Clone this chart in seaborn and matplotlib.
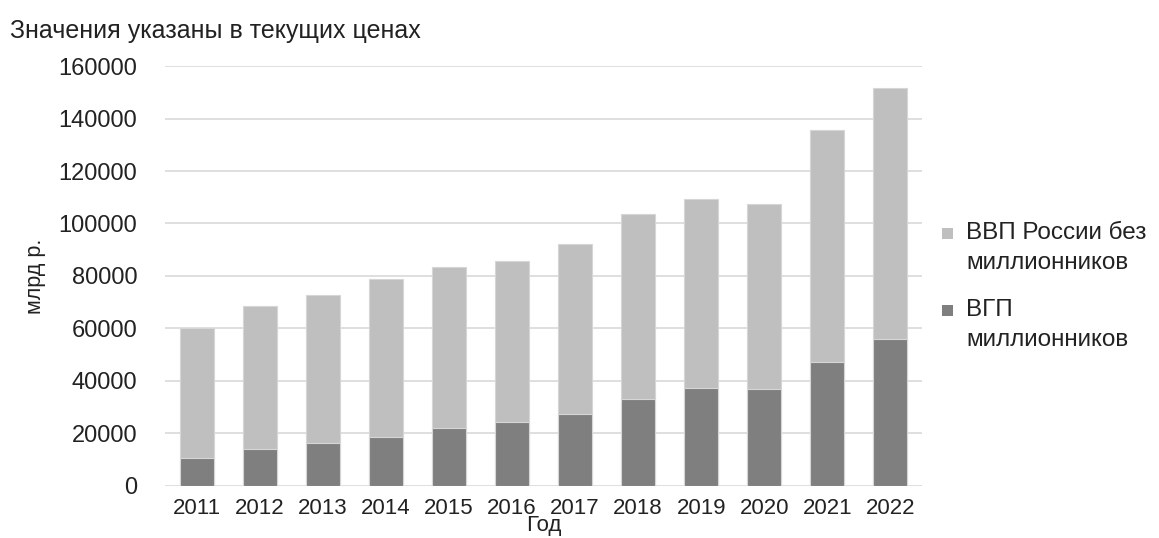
import matplotlib
matplotlib.use("Agg")
import matplotlib.pyplot as plt
import matplotlib.patches as mpatches
import seaborn as sns
import pandas as pd

years = ["2011", "2012", "2013", "2014", "2015", "2016",
         "2017", "2018", "2019", "2020", "2021", "2022"]
# ВГП городов-миллионников, млрд р.
vgp_millionaires = [10700, 13900, 16400, 18800, 21900, 24300,
                    27500, 33100, 37400, 36800, 47300, 56100]
# ВВП России без миллионников, млрд р.
gdp_rest = [49500, 54500, 56400, 60100, 61400, 61400,
            64500, 70700, 72000, 70700, 88200, 95400]
y_ticks = [0, 20000, 40000, 60000, 80000, 100000, 120000, 140000, 160000]

legend_items = [
    ("ВВП России без", "миллионников"),
    ("ВГП", "миллионников"),
]
light = "#bfbfbf"
dark = "#7f7f7f"
text_color = "#222222"

df = pd.DataFrame({"year": years, "vgp": vgp_millionaires, "rest": gdp_rest})
df["total"] = df["vgp"] + df["rest"]

sns.set_theme(style="white")
plt.rcParams["font.family"] = ["Liberation Sans", "DejaVu Sans"]

fig = plt.figure(figsize=(11.59, 5.38), dpi=100)
ax = fig.add_axes([0.1424, 0.0967, 0.653, 0.7806])

# stacked bars: full height in light grey, lower segment in dark grey
sns.barplot(data=df, x="year", y="total", color=light, width=0.54,
            edgecolor="#d6d6d6", linewidth=0.8, saturation=1, ax=ax, zorder=3)
sns.barplot(data=df, x="year", y="vgp", color=dark, width=0.54,
            edgecolor="#d6d6d6", linewidth=0.8, saturation=1, ax=ax, zorder=3)

ax.set_ylim(0, 160000)
ax.set_yticks(y_ticks)
ax.set_yticklabels([str(v) for v in y_ticks])
ax.set_xlim(-0.5, len(years) - 0.5)
ax.yaxis.grid(True, color="#d9d9d9", linewidth=1.2, zorder=0)
ax.set_axisbelow(True)
for s in ax.spines.values():
    s.set_visible(False)
ax.tick_params(axis="both", length=0, colors=text_color)
ax.tick_params(axis="x", labelsize=16, pad=9)
ax.tick_params(axis="y", labelsize=17, pad=20)

ax.set_xlabel("Год", fontsize=16, color=text_color, labelpad=-3)
ax.set_ylabel("млрд р.", fontsize=15.5, color=text_color, labelpad=9)

fig.text(0.009, 0.943, "Значения указаны в текущих ценах", fontsize=18,
         color=text_color, ha="left", va="center")

# legend: square marker beside the first line of each two-line label
W, H = fig.get_size_inches() * fig.dpi
first_line_y = [233, 310]
for (line1, line2), color, y0 in zip(legend_items, [light, dark], first_line_y):
    fig.patches.append(mpatches.Rectangle(
        (942 / W, 1 - (y0 + 5.5) / H), 11 / W, 11 / H,
        transform=fig.transFigure, facecolor=color, edgecolor="none"))
    fig.text(966 / W, 1 - y0 / H, line1, fontsize=17.5, color=text_color,
             ha="left", va="center")
    fig.text(966 / W, 1 - (y0 + 30) / H, line2, fontsize=17.5, color=text_color,
             ha="left", va="center")

fig.savefig("out.png", dpi=100)
